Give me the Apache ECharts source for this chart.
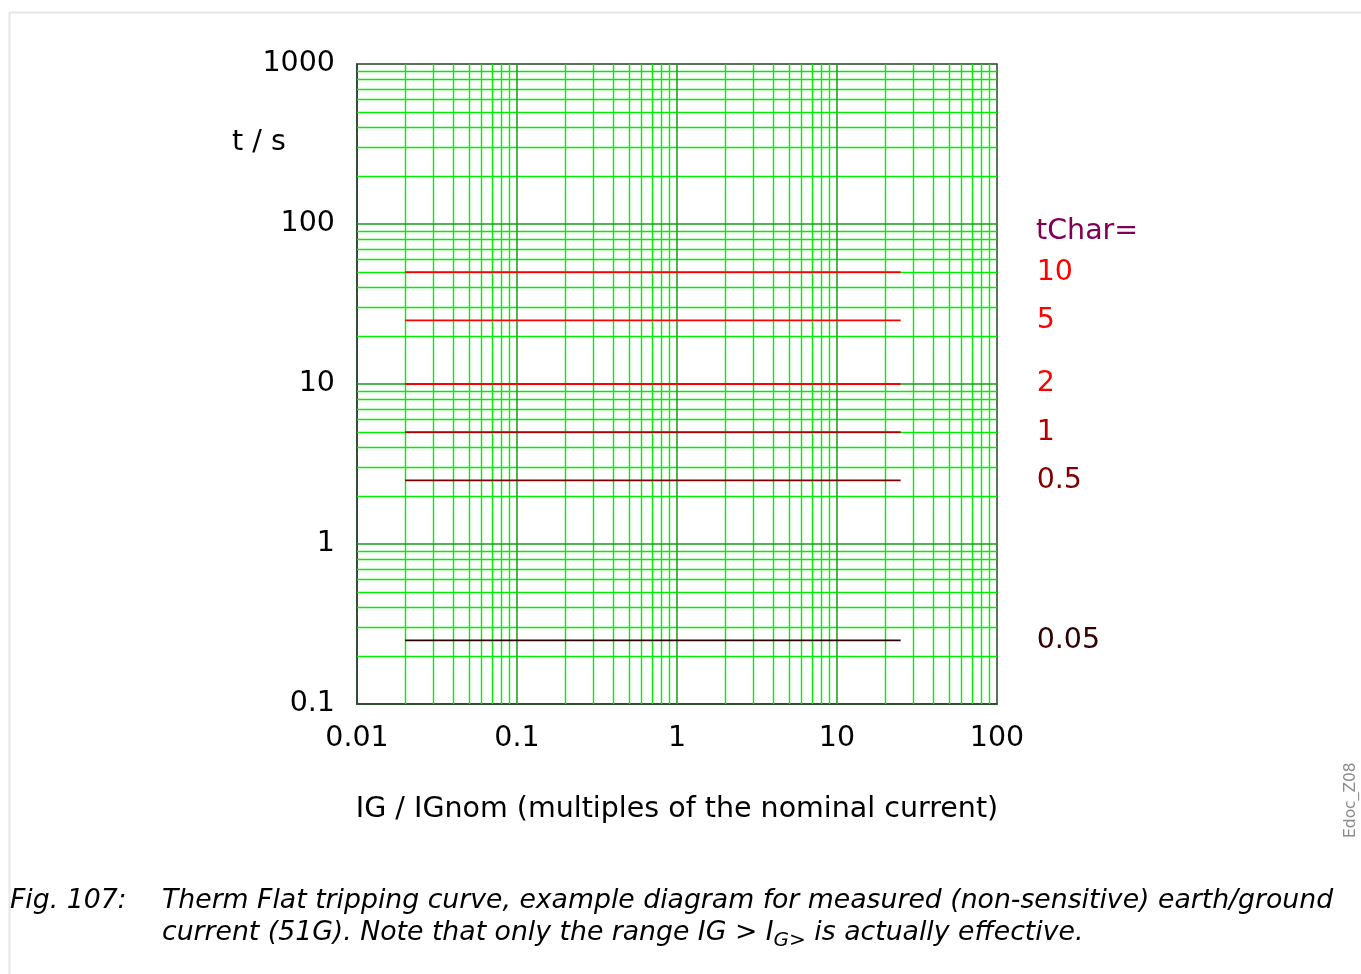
<!DOCTYPE html>
<html>
<head>
<meta charset="utf-8">
<script src="https://cdn.jsdelivr.net/npm/echarts@6/dist/echarts.min.js"></script>
<style>
html,body{margin:0;padding:0;background:#fff;}
#chart{width:1361px;height:974px;}
</style>
</head>
<body>
<div id="chart"></div>
<script>
// ---- data ----
const tCharLabels = ['10', '5', '2', '1', '0.5', '0.05'];
const tripTimes = [50, 25, 10, 5, 2.5, 0.25];
const currentStart = 0.02;
const currentEnd = 25;
const xTickLabels = ['0.01', '0.1', '1', '10', '100'];
const yTickLabels = ['0.1', '1', '10', '100', '1000'];
const xTickValues = [0.01, 0.1, 1, 10, 100];
const yTickValues = [0.1, 1, 10, 100, 1000];
const xGridMinor = [0.02, 0.03, 0.04, 0.05, 0.06, 0.07, 0.08, 0.09,
                    0.2, 0.3, 0.4, 0.5, 0.6, 0.7, 0.8, 0.9,
                    2, 3, 4, 5, 6, 7, 8, 9,
                    20, 30, 40, 50, 60, 70, 80, 90];
const yGridMinor = [0.2, 0.3, 0.4, 0.5, 0.6, 0.7, 0.8, 0.9,
                    2, 3, 4, 5, 6, 7, 8, 9,
                    20, 30, 40, 50, 60, 70, 80, 90,
                    200, 300, 400, 500, 600, 700, 800, 900];
const lineColors = ['#ff0000', '#ff0000', '#ff0000', '#b00000', '#800000', '#300000'];

const FONT = '"DejaVu Sans", sans-serif';
const chart = echarts.init(document.getElementById('chart'), null, {renderer: 'canvas'});

const minorStyle = {color: '#00ee00', width: 1.4, type: 'solid', opacity: 1};
const majorStyle = {color: '#169a16', width: 1.5, type: 'solid', opacity: 1};
const gridLines = []
  .concat(xGridMinor.map(v => ({xAxis: v, lineStyle: minorStyle})))
  .concat(yGridMinor.map(v => ({yAxis: v, lineStyle: minorStyle})))
  .concat(xTickValues.slice(1, -1).map(v => ({xAxis: v, lineStyle: majorStyle})))
  .concat(yTickValues.slice(1, -1).map(v => ({yAxis: v, lineStyle: majorStyle})));

const series = [{
  type: 'line',
  name: 'grid',
  data: [],
  silent: true,
  z: 1,
  color: '#00ee00',
  markLine: {
    silent: true,
    symbol: ['none', 'none'],
    label: {show: false},
    emphasis: {disabled: true},
    animation: false,
    lineStyle: {color: '#00ee00', width: 1.4, type: 'solid', opacity: 1},
    data: gridLines
  }
}].concat(tripTimes.map((t, i) => ({
  type: 'line',
  name: tCharLabels[i],
  data: [[currentStart, t], [currentEnd, t]],
  symbol: 'none',
  silent: true,
  lineStyle: {color: lineColors[i], width: 1.8},
  endLabel: {
    show: true,
    formatter: tCharLabels[i],
    distance: 136,
    color: lineColors[i],
    fontSize: 28.5,
    fontFamily: FONT
  },
  z: 5
})));

chart.setOption({
  animation: false,
  backgroundColor: '#ffffff',
  grid: {left: 357, top: 64, width: 640, height: 640, show: true, borderColor: '#264426', borderWidth: 1.5, backgroundColor: 'transparent', z: 3},
  xAxis: {
    type: 'log', logBase: 10, min: 0.01, max: 100,
    axisLine: {show: true, lineStyle: {color: '#264426', width: 1.5}},
    axisTick: {show: false},
    axisLabel: {
      color: '#000', fontSize: 28.5, fontFamily: FONT, margin: 20,
      formatter: (v) => { const k = xTickValues.findIndex(t => Math.abs(Math.log10(t) - Math.log10(v)) < 1e-6); return k >= 0 ? xTickLabels[k] : ''; }
    },
    splitLine: {show: false},
    minorSplitLine: {show: false},
    name: 'IG / IGnom (multiples of the nominal current)',
    nameLocation: 'middle', nameGap: 91,
    nameTextStyle: {color: '#000', fontSize: 28.5, fontFamily: FONT}
  },
  yAxis: {
    type: 'log', logBase: 10, min: 0.1, max: 1000,
    axisLine: {show: true, lineStyle: {color: '#264426', width: 1.5}},
    axisTick: {show: false},
    axisLabel: {
      color: '#000', fontSize: 28.5, fontFamily: FONT, margin: 22,
      formatter: (v) => { const k = yTickValues.findIndex(t => Math.abs(Math.log10(t) - Math.log10(v)) < 1e-6); return k >= 0 ? yTickLabels[k] : ''; }
    },
    splitLine: {show: false},
    minorSplitLine: {show: false}
  },
  series: series,
  graphic: [
    {type: 'line', shape: {x1: 9, y1: 12.5, x2: 1361, y2: 12.5}, style: {stroke: '#e6e6e6', lineWidth: 2}, silent: true},
    {type: 'line', shape: {x1: 9.5, y1: 12, x2: 9.5, y2: 974}, style: {stroke: '#e6e6e6', lineWidth: 2}, silent: true},
    {type: 'text', left: 232, top: 128, style: {text: 't / s', fill: '#000', font: '28.5px ' + FONT}},
    {type: 'text', left: 1036, top: 217, style: {text: 'tChar=', fill: '#800055', font: '28.5px ' + FONT}},
    {type: 'text', left: 10, top: 888, style: {text: 'Fig. 107:', fill: '#000', font: 'italic 26.7px ' + FONT}},
    {type: 'text', left: 162, top: 888, style: {text: 'Therm Flat tripping curve, example diagram for measured (non-sensitive) earth/ground', fill: '#000', font: 'italic 26.7px ' + FONT}},
    {type: 'text', left: 162, top: 920, style: {
      text: '{a|current (51G). Note that only the range IG > I}{s|G>}{a| is actually effective.}',
      rich: {
        a: {fontFamily: FONT, fontStyle: 'italic', fontSize: 26.7, color: '#000'},
        s: {fontFamily: FONT, fontStyle: 'italic', fontSize: 20, color: '#000', padding: [14, 0, 0, 0]}
      }
    }},
    {type: 'text', x: 1343, y: 838, rotation: Math.PI / 2, style: {text: 'Edoc_Z08', fill: '#8c8c8c', font: '15.5px ' + FONT}}
  ]
});
</script>
</body>
</html>
